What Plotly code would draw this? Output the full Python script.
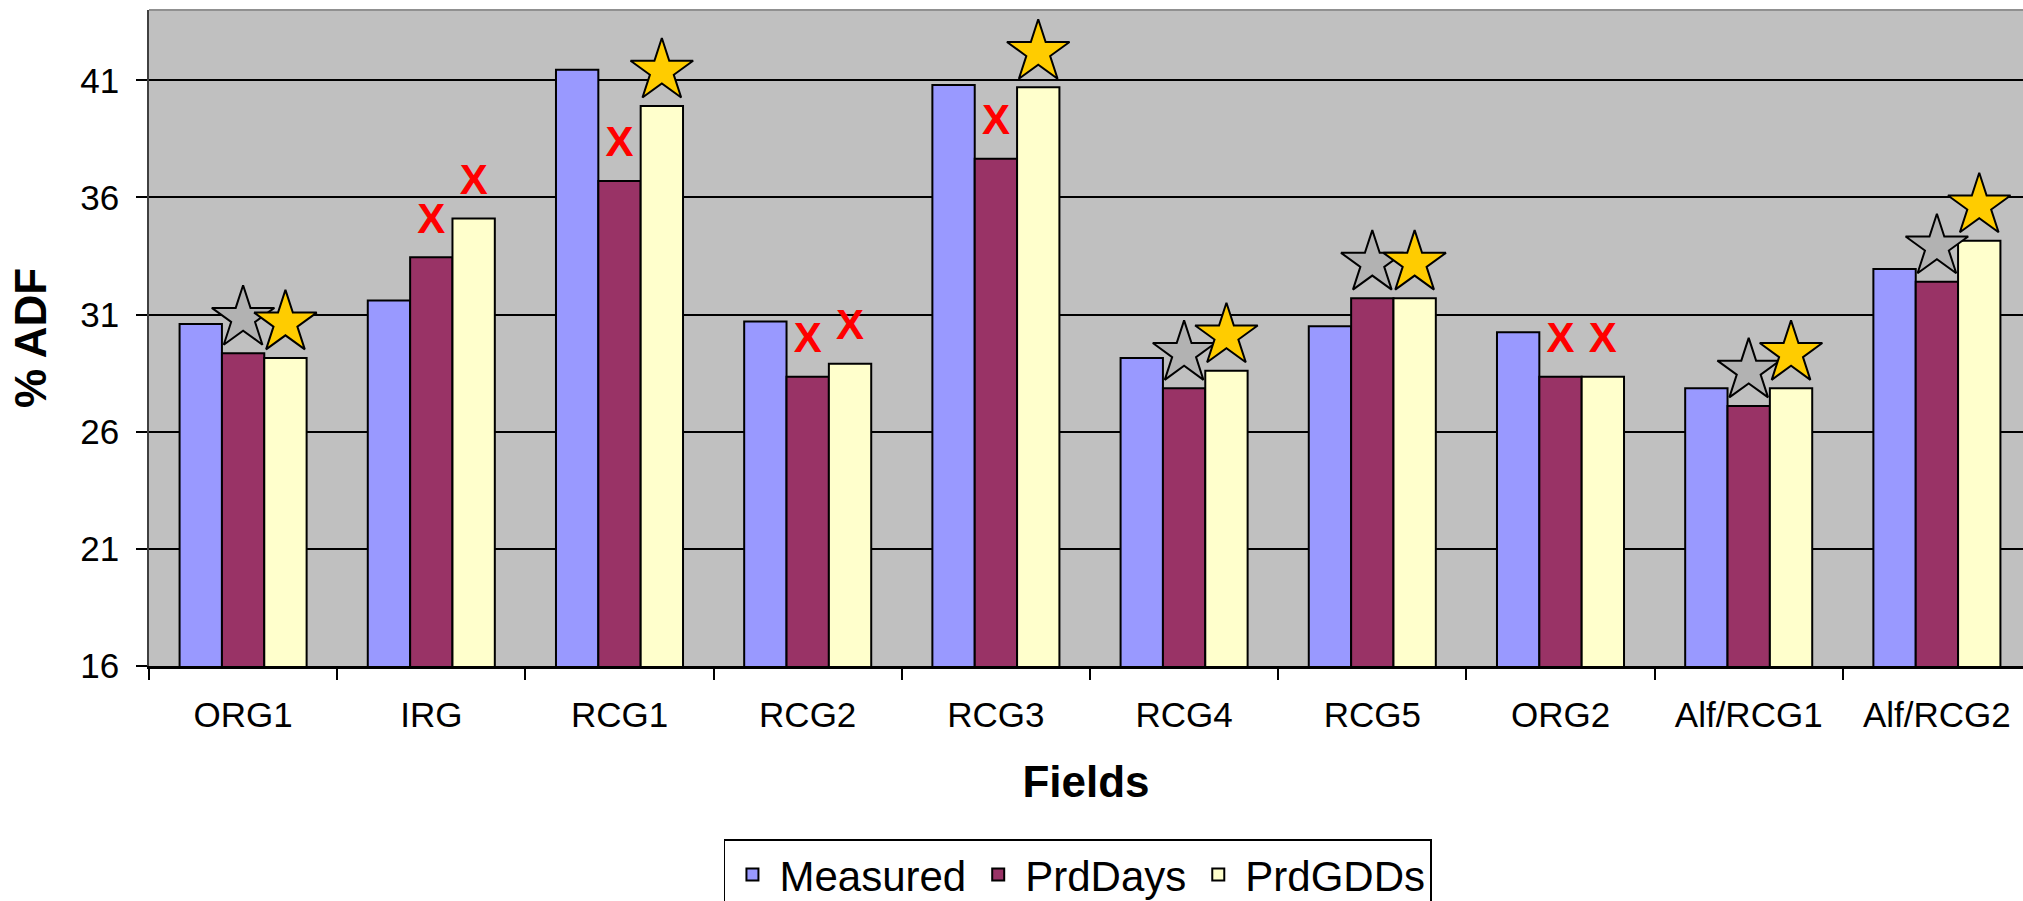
import plotly.graph_objects as go

# Fields and % ADF values (measured vs. two prediction methods)
fields = ["ORG1", "IRG", "RCG1", "RCG2", "RCG3", "RCG4", "RCG5", "ORG2", "Alf/RCG1", "Alf/RCG2"]
measured = [30.6, 31.6, 41.45, 30.7, 40.8, 29.15, 30.5, 30.25, 27.85, 32.95]
prd_days = [29.35, 33.45, 36.7, 28.35, 37.65, 27.85, 31.7, 28.35, 27.1, 32.4]
prd_gdds = [29.15, 35.1, 39.9, 28.9, 40.7, 28.6, 31.7, 28.35, 27.85, 34.15]

# Agreement flags shown above each predicted bar: "star" = good, "x" = poor
days_flag = ["star", "x", "x", "x", "x", "star", "star", "x", "star", "star"]
gdds_flag = ["star", "x", "star", "x", "star", "star", "star", "x", "star", "star"]

FONT = "Liberation Sans, Arial, sans-serif"
BARGAP = 0.325
BAR_W = (1 - BARGAP) / 3          # width of one bar in category units
FLAG_LIFT = 1.5                   # flag height above the bar top (% ADF)
X_RANGE = [-0.5, 9.4575]

fig = go.Figure()

series = [
    ("Measured", measured, "#9999FF"),
    ("PrdDays", prd_days, "#993366"),
    ("PrdGDDs", prd_gdds, "#FFFFCC"),
]
for name, vals, color in series:
    fig.add_trace(go.Bar(
        name=name, x=fields, y=vals,
        marker=dict(color=color, line=dict(color="black", width=2)),
    ))


def flag_traces(vals, flags, offset, star_fill):
    xs_star, ys_star, xs_x, ys_x = [], [], [], []
    for i, (v, f) in enumerate(zip(vals, flags)):
        if f == "star":
            xs_star.append(i + offset)
            ys_star.append(v + FLAG_LIFT)
        else:
            xs_x.append(i + offset)
            ys_x.append(v + FLAG_LIFT)
    fig.add_trace(go.Scatter(
        x=xs_star, y=ys_star, xaxis="x2", mode="markers", showlegend=False,
        marker=dict(symbol="star", size=47, color=star_fill,
                    line=dict(color="black", width=2)),
        hoverinfo="skip",
    ))
    fig.add_trace(go.Scatter(
        x=xs_x, y=ys_x, xaxis="x2", mode="text", text=["X"] * len(xs_x),
        textposition="middle center", showlegend=False,
        textfont=dict(family=FONT, size=42, color="#FF0000", weight="bold"),
        hoverinfo="skip",
    ))


flag_traces(prd_days, days_flag, 0.0, "#B2B2B2")
flag_traces(prd_gdds, gdds_flag, BAR_W, "#FFCC00")

fig.update_layout(
    width=2023, height=901,
    margin=dict(l=149, r=0, t=10, b=235, autoexpand=False),
    paper_bgcolor="white",
    plot_bgcolor="#C0C0C0",
    barmode="group", bargap=BARGAP, bargroupgap=0,
    font=dict(family=FONT, color="black"),
    xaxis=dict(
        type="category", range=X_RANGE, tickson="boundaries",
        ticks="outside", ticklen=11, tickwidth=1.5, tickcolor="black",
        tickfont=dict(size=35), ticklabelstandoff=16,
        showline=True, linecolor="black", linewidth=2.5,
        showgrid=False, zeroline=False,
        title=dict(text="Fields", font=dict(size=44, weight="bold"), standoff=34),
        automargin=False,
    ),
    xaxis2=dict(
        overlaying="x", range=X_RANGE, visible=False, type="linear",
    ),
    yaxis=dict(
        range=[16, 44], tick0=16, dtick=5,
        ticks="outside", ticklen=11, tickwidth=1.5, tickcolor="black",
        tickfont=dict(size=35), ticklabelstandoff=10,
        showline=True, linecolor="#404040", linewidth=1.5,
        showgrid=True, gridcolor="black", gridwidth=1.5,
        zeroline=False,
        title=dict(text="% ADF", font=dict(size=44, weight="bold"), standoff=20),
        automargin=False,
    ),
    legend=dict(
        orientation="h", x=0.4957, xanchor="center", y=-0.264, yanchor="top",
        font=dict(size=42), bgcolor="white",
        bordercolor="black", borderwidth=1.5,
        itemwidth=44, traceorder="normal",
    ),
    showlegend=True,
    shapes=[dict(type="line", xref="paper", yref="paper", x0=0, x1=1, y0=1, y1=1,
                 line=dict(color="#909090", width=2))],
)

fig.write_html("out.html")
